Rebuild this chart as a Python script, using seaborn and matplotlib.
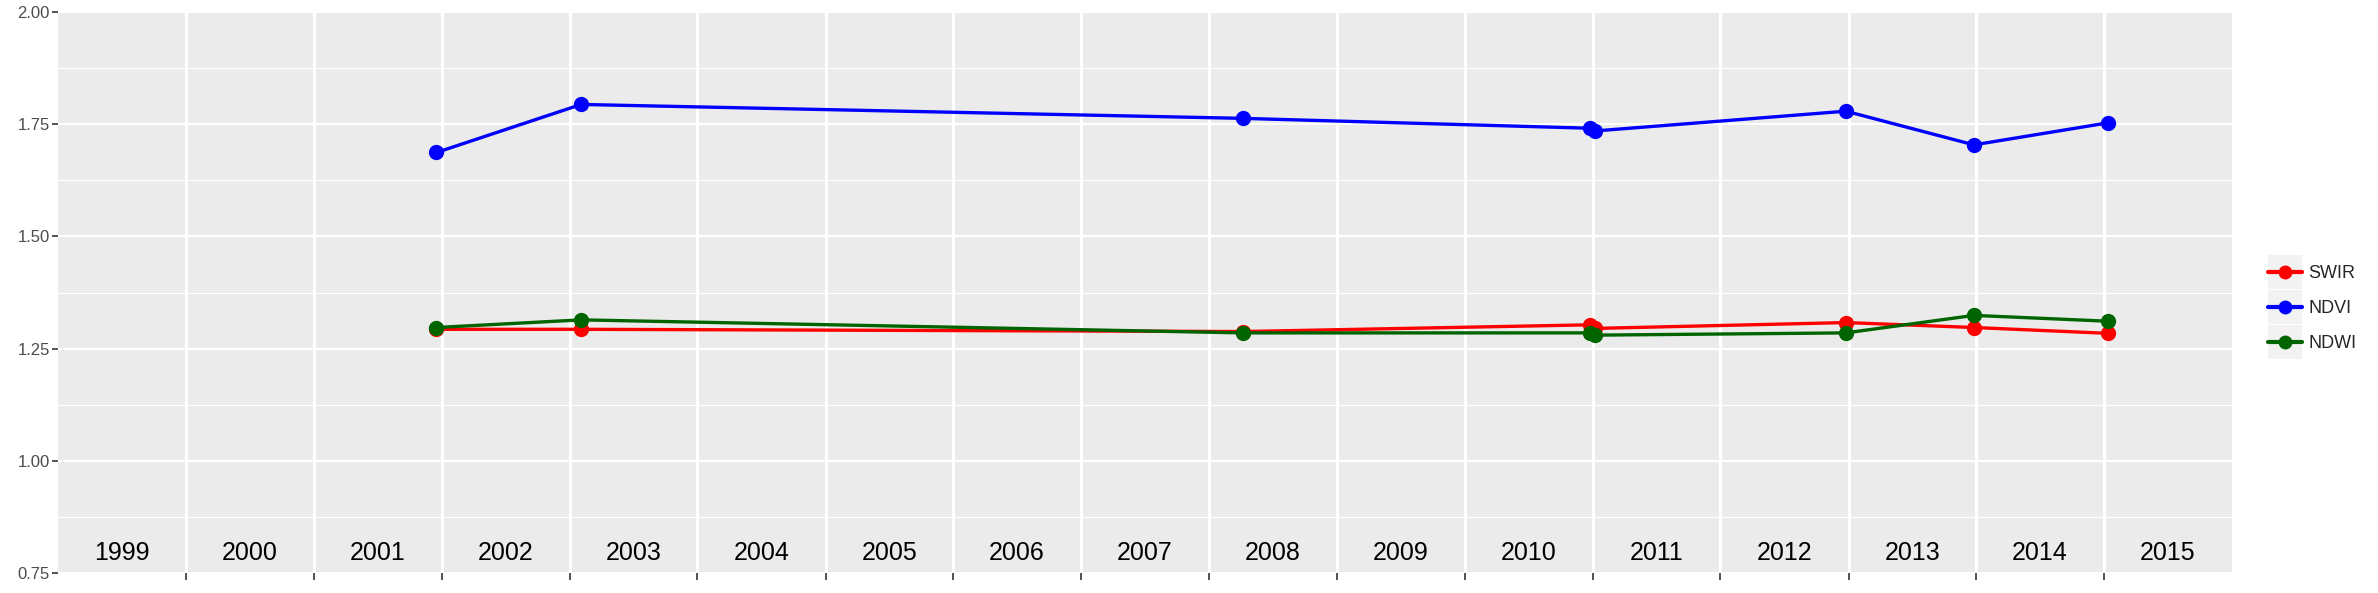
import numpy as np
import pandas as pd
import matplotlib
matplotlib.use("Agg")
import matplotlib.pyplot as plt
from matplotlib.lines import Line2D
from matplotlib.patches import Rectangle
from matplotlib.ticker import MultipleLocator
import seaborn as sb

# acquisition dates and index values
dates = pd.to_datetime(["2001-12-17", "2003-02-03", "2008-04-07", "2010-12-24",
                        "2011-01-09", "2012-12-24", "2013-12-25", "2015-01-12"])
swir = [1.293, 1.293, 1.288, 1.303, 1.295, 1.308, 1.297, 1.284]
ndvi = [1.687, 1.794, 1.763, 1.741, 1.735, 1.779, 1.704, 1.753]
ndwi = [1.297, 1.314, 1.285, 1.285, 1.280, 1.285, 1.324, 1.311]
series = ["SWIR", "NDVI", "NDWI"]
colours = {"SWIR": "red", "NDVI": "blue", "NDWI": "#006400"}
years = list(range(1999, 2016))

df = pd.DataFrame({"date": dates, "SWIR": swir, "NDVI": ndvi, "NDWI": ndwi})
long = df.melt(id_vars="date", var_name="index", value_name="value")

sb.set_style("darkgrid", {"axes.facecolor": "#EBEBEB", "grid.color": "white"})
plt.rcParams["font.family"] = ["Liberation Sans", "DejaVu Sans"]

W, H = 2378, 593
fig = plt.figure(figsize=(W / 100, H / 100), dpi=100)
ax = fig.add_axes([58 / W, 20 / H, 2174 / W, 561 / H])

sb.lineplot(data=long, x="date", y="value", hue="index", hue_order=series,
            palette=colours, marker="o", markersize=11, markeredgewidth=0,
            linewidth=2.4, ax=ax, legend=False)

# x axis: one band per year, labels written inside the panel
ax.set_xlim(pd.Timestamp("1999-01-01"), pd.Timestamp("2016-01-01"))
ax.set_xticks([pd.Timestamp(f"{y}-01-01") for y in years[1:]])
ax.set_xticklabels([])
for y in years:
    ax.text(pd.Timestamp(f"{y}-07-02"), 0.795, str(y), ha="center", va="center",
            fontsize=18, color="black")

ax.set_ylim(0.75, 2.0)
ax.set_yticks([0.75, 1.0, 1.25, 1.5, 1.75, 2.0])
ax.set_yticklabels(["0.75", "1.00", "1.25", "1.50", "1.75", "2.00"])
ax.yaxis.set_minor_locator(MultipleLocator(0.125))
ax.grid(False)
ax.grid(which="major", axis="y", color="white", linewidth=1.5)
ax.grid(which="minor", axis="y", color="white", linewidth=0.8)
ax.grid(which="major", axis="x", color="white", linewidth=2.2)
ax.set_axisbelow(True)
ax.tick_params(axis="y", which="major", length=4, width=1.2, color="#333333",
               labelsize=12, labelcolor="#4D4D4D", pad=2, left=True)
ax.tick_params(axis="y", which="minor", length=0)
ax.tick_params(axis="x", length=5, width=1.2, color="#333333", bottom=True)
ax.set_xlabel("")
ax.set_ylabel("")
for s in ax.spines.values():
    s.set_visible(False)

handles = [Line2D([], [], color=colours[s], lw=3, marker="o", ms=10, mew=0) for s in series]
leg = fig.legend(handles, series, loc="center left", bbox_to_anchor=(2262 / W, 0.482),
                 frameon=False, fontsize=13, handlelength=1.9, handletextpad=0.35,
                 labelspacing=1.0, borderpad=0)

# nudge the legend so the keys sit where the reference has them
fig.canvas.draw()
r = fig.canvas.get_renderer()
bb = leg.legend_handles[1].get_window_extent(r)
dx = 2285 - (bb.x0 + bb.x1) / 2
dy = (H - 307) - (bb.y0 + bb.y1) / 2
leg.set_bbox_to_anchor(((2262 + dx) / W, 0.482 + dy / H), transform=fig.transFigure)

# grey key boxes behind the legend handles, like ggplot
fig.canvas.draw()
for h in leg.legend_handles:
    bb = h.get_window_extent(r)
    cx, cy = (bb.x0 + bb.x1) / 2, (bb.y0 + bb.y1) / 2
    rect = Rectangle(((cx - 17) / W, (cy - 17) / H), 34 / W, 34 / H,
                     transform=fig.transFigure, facecolor="#F2F2F2", edgecolor="none", zorder=0)
    fig.patches.append(rect)

fig.savefig("out.png", dpi=100)
